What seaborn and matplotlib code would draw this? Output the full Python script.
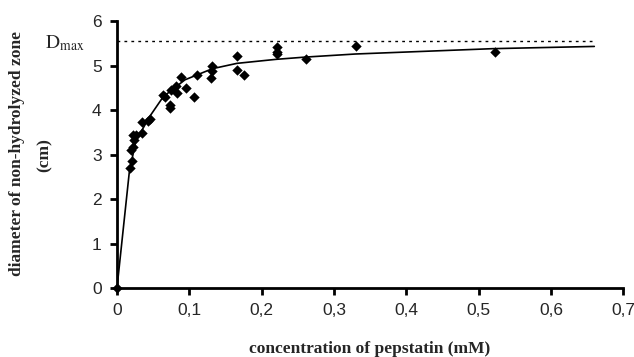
import seaborn as sns
import matplotlib.pyplot as plt
import matplotlib.ticker as mticker
import pandas as pd

# measured points (concentration mM, diameter cm)
conc = [0.0, 0.0175, 0.021, 0.019, 0.022, 0.024, 0.022, 0.026, 0.034, 0.034,
        0.045, 0.043, 0.064, 0.066, 0.074, 0.074, 0.075, 0.082, 0.083, 0.088,
        0.096, 0.106, 0.110, 0.132, 0.132, 0.130, 0.166, 0.166, 0.176, 0.221,
        0.221, 0.221, 0.261, 0.331, 0.523]
diam = [0.0, 2.69, 2.86, 3.10, 3.18, 3.33, 3.44, 3.45, 3.49, 3.74,
        3.81, 3.76, 4.34, 4.30, 4.11, 4.04, 4.45, 4.54, 4.39, 4.75,
        4.50, 4.30, 4.79, 4.99, 4.88, 4.71, 5.21, 4.91, 4.79, 5.42,
        5.30, 5.25, 5.14, 5.44, 5.30]

# fitted curve as drawn
curve_x = [0.0, 0.017, 0.026, 0.045, 0.064, 0.094, 0.132, 0.166, 0.22,
           0.26, 0.33, 0.52, 0.66]
curve_y = [0.0, 2.6, 3.3, 3.85, 4.3, 4.68, 4.93, 5.05, 5.14,
           5.19, 5.26, 5.38, 5.43]

dmax = 5.56

points = pd.DataFrame({'conc': conc, 'diam': diam})
fit = pd.DataFrame({'conc': curve_x, 'diam': curve_y})

sns.set_style("ticks")
plt.rcParams['mathtext.fontset'] = 'stix'

fig = plt.figure(figsize=(6.34, 3.57), dpi=100)
ax = fig.add_axes([0.1845, 0.193, 0.7985, 0.748])

sns.lineplot(data=fit, x='conc', y='diam', color='black', linewidth=1.2, ax=ax)
sns.scatterplot(data=points, x='conc', y='diam', marker='D', s=28, color='black',
                edgecolor='black', linewidth=0, ax=ax, zorder=3, clip_on=False)
ax.hlines(dmax, curve_x[0], curve_x[-1], color='black', linewidth=1,
          linestyles=(0, (2, 3)))

ax.set_xlim(0, 0.7)
ax.set_ylim(0, 6)
ax.set_xticks([0, 0.1, 0.2, 0.3, 0.4, 0.5, 0.6, 0.7])
ax.set_yticks(range(7))
ax.xaxis.set_major_formatter(mticker.FuncFormatter(
    lambda v, p: '0' if v == 0 else f'{v:.1f}'.replace('.', ',')))

sns.despine(ax=ax)
for s in ['left', 'bottom']:
    ax.spines[s].set_linewidth(2)
    ax.spines[s].set_color('black')
ax.tick_params(axis='both', direction='out', length=5, width=2, color='black',
               labelsize=12.5, pad=6)
for lab in ax.get_xticklabels() + ax.get_yticklabels():
    lab.set_family('Liberation Sans')

ax.set_xlabel('concentration of pepstatin (mM)', family='Liberation Serif',
              fontweight='bold', fontsize=12.5, labelpad=16)
ax.set_ylabel('')

# y label written as two separate lines
label_font = dict(family='Liberation Serif', fontweight='bold', fontsize=12.5,
                  rotation=90, ha='center', va='center')
fig.text(17 / 634, 1 - 154 / 357, 'diameter of non-hydrolyzed zone', **label_font)
fig.text(45 / 634, 1 - 155 / 357, '(cm)', **label_font)

fig.text(0.071, 1 - 43 / 357, r'D$_{\rm max}$', fontsize=14, va='center',
         ha='left', family='STIXGeneral')

plt.savefig('out.png', dpi=100)
